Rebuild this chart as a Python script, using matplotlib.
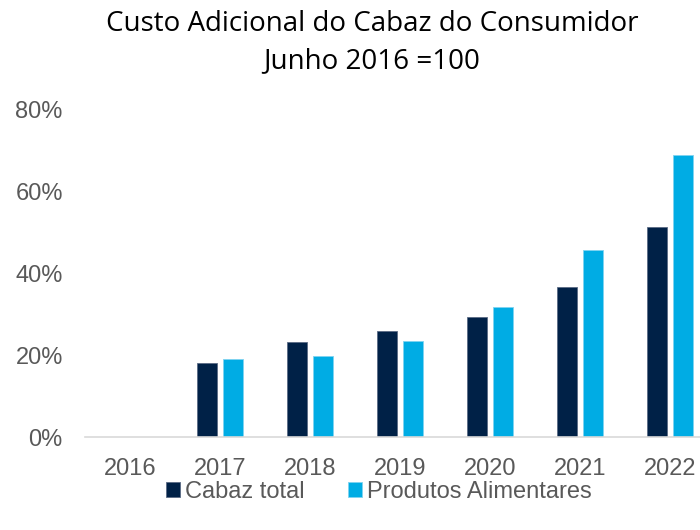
import numpy as np
import matplotlib
matplotlib.use("Agg")
import matplotlib.pyplot as plt
from matplotlib.ticker import FuncFormatter

anos = ["2016", "2017", "2018", "2019", "2020", "2021", "2022"]
cabaz_total = [0.0, 18.0, 23.2, 26.0, 29.3, 36.7, 51.3]
produtos_alimentares = [0.0, 19.1, 19.7, 23.6, 31.9, 45.7, 69.0]

cor_total = "#002147"
cor_alim = "#00ACE4"
cinza = "#595959"

fig = plt.figure(figsize=(7, 5.3), dpi=100)
ax = fig.add_axes([85 / 700, 1 - 437 / 530, 630 / 700, 327 / 530])

x = np.arange(len(anos))
w = 0.23
ax.bar(x - 0.145, np.array(cabaz_total) / 100, w, color=cor_total,
       edgecolor="#5a6b85", linewidth=0.6, label="Cabaz total")
ax.bar(x + 0.145, np.array(produtos_alimentares) / 100, w, color=cor_alim,
       edgecolor="#7fd3f0", linewidth=0.6, label="Produtos Alimentares")

ax.set_xlim(-0.5, 6.5)
ax.set_ylim(0, 0.8)
ax.set_yticks([0, 0.2, 0.4, 0.6, 0.8])
ax.yaxis.set_major_formatter(FuncFormatter(lambda v, p: f"{v * 100:.0f}%"))
ax.set_xticks(x)
ax.set_xticklabels(anos)

for s in ["top", "right", "left"]:
    ax.spines[s].set_visible(False)
ax.spines["bottom"].set_color("#d9d9d9")
ax.spines["bottom"].set_linewidth(1.2)
ax.tick_params(axis="both", length=0, labelsize=17, labelcolor=cinza)
ax.tick_params(axis="x", pad=15)
ax.tick_params(axis="y", pad=16)
for lbl in ax.get_xticklabels() + ax.get_yticklabels():
    lbl.set_fontfamily("Liberation Sans")

fig.text(372 / 700, 0.982, "Custo Adicional do Cabaz do Consumidor\nJunho 2016 =100",
         ha="center", va="top", fontsize=20, family="Open Sans",
         color="black", linespacing=1.45)

leg = fig.legend(loc="center", bbox_to_anchor=(0.541, 0.072), ncol=2, frameon=False,
                 handlelength=0.6, handleheight=0.6, handletextpad=0.2,
                 columnspacing=1.85, prop={"family": "Liberation Sans", "size": 17})
for t in leg.get_texts():
    t.set_color(cinza)

fig.savefig("out.png", dpi=100)
